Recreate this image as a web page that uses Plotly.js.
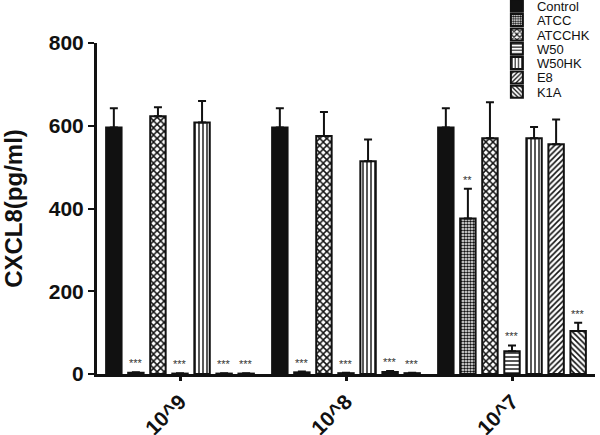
<!DOCTYPE html>
<html>
<head>
<meta charset="utf-8">
<script src="https://cdn.plot.ly/plotly-3.0.1.min.js"></script>
<style>
  html, body { margin: 0; padding: 0; background: #fff; }
  #chart { width: 600px; height: 435px; }
</style>
</head>
<body>
<div id="chart"></div>
<script>
// doses (categories)
let doses = ['10^9', '10^8', '10^7'];

// CXCL8 (pg/ml)
let names = ['Control', 'ATCC', 'ATCCHK', 'W50', 'W50HK', 'E8', 'K1A'];
let control = [596, 596, 596];
let atcc = [3, 4, 376];
let atcchk = [623, 575, 570];
let w50 = [1, 2, 55];
let w50hk = [608, 514, 570];
let e8 = [1, 5, 555];
let k1a = [1, 2, 104];

// upper error (SEM)
let errControl = [46, 46, 46];
let errAtcc = [1, 2, 72];
let errAtcchk = [22, 58, 87];
let errW50 = [1, 1, 14];
let errW50hk = [52, 53, 27];
let errE8 = [1, 2, 60];
let errK1a = [1, 1, 20];

// significance marks
let sigControl = ['', '', ''];
let sigAtcc = ['***', '***', '**'];
let sigAtcchk = ['', '', ''];
let sigW50 = ['***', '***', '***'];
let sigW50hk = ['', '', ''];
let sigE8 = ['***', '***', ''];
let sigK1a = ['***', '***', '***'];

let values = [control, atcc, atcchk, w50, w50hk, e8, k1a];
let errs = [errControl, errAtcc, errAtcchk, errW50, errW50hk, errE8, errK1a];
let sigs = [sigControl, sigAtcc, sigAtcchk, sigW50, sigW50hk, sigE8, sigK1a];

// motifs des barres
let patterns = [
    {shape: '', fgcolor: '#111', bgcolor: '#111'},
    {shape: '.', size: 3, solidity: 0.55, fgcolor: '#111', bgcolor: '#fff'},
    {shape: 'x', size: 5, solidity: 0.5, fgcolor: '#111', bgcolor: '#fff'},
    {shape: '-', size: 4, solidity: 0.35, fgcolor: '#111', bgcolor: '#fff'},
    {shape: '|', size: 4, solidity: 0.35, fgcolor: '#111', bgcolor: '#fff'},
    {shape: '/', size: 4, solidity: 0.4, fgcolor: '#111', bgcolor: '#fff'},
    {shape: '\\', size: 4, solidity: 0.4, fgcolor: '#111', bgcolor: '#fff'}
];

let bargap = 0.07;
let data = [];
let annotations = [];
let slot = (1 - bargap) / names.length;

for (let i = 0; i < names.length; i++) {
    data.push({
        type: 'bar',
        name: names[i],
        x: doses,
        y: values[i],
        marker: {
            color: i == 0 ? '#111' : '#fff',
            line: {color: '#111', width: 2},
            pattern: patterns[i]
        },
        error_y: {
            type: 'data',
            symmetric: false,
            array: errs[i],
            arrayminus: [0, 0, 0],
            color: '#111',
            thickness: 2,
            width: 4
        },
        hoverinfo: 'y'
    });
    // étoiles au-dessus des barres
    for (let g = 0; g < doses.length; g++) {
        if (sigs[i][g] == '') continue;
        annotations.push({
            x: g + (i - (names.length - 1) / 2) * slot,
            y: values[i][g] + errs[i][g],
            xref: 'x', yref: 'y',
            text: sigs[i][g],
            showarrow: false,
            yanchor: 'bottom',
            yshift: 1,
            font: {family: 'Arial, Liberation Sans, sans-serif', size: 11, color: '#333'}
        });
    }
}

let layout = {
    width: 600,
    height: 435,
    margin: {l: 97, r: 5, t: 43, b: 61, autoexpand: false},
    paper_bgcolor: '#fff',
    plot_bgcolor: '#fff',
    font: {family: 'Arial, Liberation Sans, sans-serif', color: '#111'},
    barmode: 'group',
    bargap: bargap,
    bargroupgap: 0.3,
    showlegend: true,
    legend: {
        x: 0.803, y: 1.145, xanchor: 'left', yanchor: 'top',
        font: {size: 13, color: '#111'},
        bgcolor: 'rgba(0,0,0,0)'
    },
    xaxis: {
        type: 'category',
        range: [-0.5, 2.5],
        showline: true,
        linecolor: '#111',
        linewidth: 3,
        ticks: 'outside',
        ticklen: 4,
        tickwidth: 3,
        tickcolor: '#111',
        tickangle: -45,
        tickfont: {size: 21, weight: 'bold'},
        showgrid: false,
        zeroline: false
    },
    yaxis: {
        range: [0, 800],
        tickvals: [0, 200, 400, 600, 800],
        showline: true,
        linecolor: '#111',
        linewidth: 3,
        ticks: 'outside',
        ticklen: 6,
        tickwidth: 2,
        tickcolor: '#111',
        tickfont: {size: 21, weight: 'bold'},
        showgrid: false,
        zeroline: false,
        title: {text: 'CXCL8(pg/ml)', font: {size: 24, weight: 'bold'}, standoff: 22}
    },
    annotations: annotations
};

// resserrer les lignes de la légende (Plotly impose ~20px par entrée)
function tighten(gd) {
    let k = 0.72;
    let items = gd.querySelectorAll('.legend .traces');
    items.forEach(function (el) {
        let t = el.getAttribute('transform') || '';
        let m = t.match(/translate\(\s*([-\d.]+)[ ,]+([-\d.]+)\s*\)/);
        if (!m) return;
        let x = parseFloat(m[1]);
        let y = parseFloat(m[2]);
        el.setAttribute('transform', 'translate(' + x + ',' + (y * k) + ')');
    });
}

Plotly.newPlot('chart', data, layout, {displayModeBar: false, staticPlot: true}).then(tighten);
</script>
</body>
</html>
